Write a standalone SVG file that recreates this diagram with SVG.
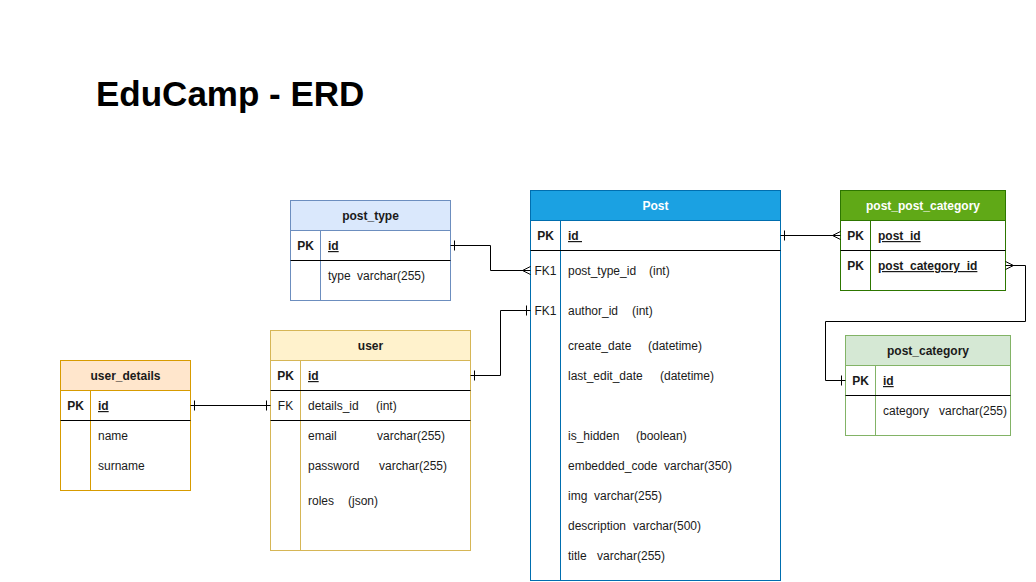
<svg xmlns="http://www.w3.org/2000/svg" width="1036" height="582" viewBox="0 0 1036 582">
<style>
text{font-family:"Liberation Sans",Arial,Helvetica,sans-serif;font-size:12px;fill:#1a1a1a}
.h{font-weight:bold;text-anchor:middle}
.hw{font-weight:bold;text-anchor:middle;fill:#fff}
.k{text-anchor:middle}
.kb{text-anchor:middle;font-weight:bold}
.u{font-weight:bold;text-decoration:underline}
.sep{stroke:#000;stroke-width:1;fill:none}
.c{stroke:#000;stroke-width:1;fill:none}
.title{font-size:35px;font-weight:bold;fill:#000}
</style>
<rect width="1036" height="582" fill="#fff"/>
<text class="title" x="96" y="106">EduCamp - ERD</text>

<g id="post_type">
<rect x="290.5" y="200.5" width="160" height="100" fill="#fff" stroke="#6c8ebf"/>
<rect x="290.5" y="200.5" width="160" height="30" fill="#dae8fc" stroke="#6c8ebf"/>
<line x1="320.5" y1="230.5" x2="320.5" y2="300.5" stroke="#6c8ebf"/>
<line class="sep" x1="290.5" y1="260.5" x2="450.5" y2="260.5"/>
<text class="h" x="370.5" y="220">post_type</text>
<text class="kb" x="305.5" y="250">PK</text>
<text class="u" x="328" y="250">id</text>
<text x="328" y="280">type</text><text x="357" y="280">varchar(255)</text>
</g>

<g id="post">
<rect x="530.5" y="190.5" width="250" height="390" fill="#fff" stroke="#006eaf"/>
<rect x="530.5" y="190.5" width="250" height="30" fill="#1ba1e2" stroke="#006eaf"/>
<line x1="560.5" y1="220.5" x2="560.5" y2="580.5" stroke="#006eaf"/>
<line class="sep" x1="530.5" y1="250.5" x2="780.5" y2="250.5"/>
<text class="hw" x="655.5" y="210">Post</text>
<text class="kb" x="545.5" y="240">PK</text>
<text class="u" x="568" y="240">id&#160;</text>
<text class="k" x="545.5" y="275">FK1</text>
<text x="568" y="275">post_type_id</text><text x="649" y="275">(int)</text>
<text class="k" x="545.5" y="315">FK1</text>
<text x="568" y="315">author_id</text><text x="632" y="315">(int)</text>
<text x="568" y="350">create_date</text><text x="648" y="350">(datetime)</text>
<text x="568" y="380">last_edit_date</text><text x="660" y="380">(datetime)</text>
<text x="568" y="440">is_hidden</text><text x="636" y="440">(boolean)</text>
<text x="568" y="470">embedded_code</text><text x="664" y="470">varchar(350)</text>
<text x="568" y="500">img</text><text x="594" y="500">varchar(255)</text>
<text x="568" y="530">description</text><text x="633" y="530">varchar(500)</text>
<text x="568" y="560">title</text><text x="597" y="560">varchar(255)</text>
</g>

<g id="post_post_category">
<rect x="840.5" y="190.5" width="165" height="100" fill="#fff" stroke="#2d7600"/>
<rect x="840.5" y="190.5" width="165" height="30" fill="#60a917" stroke="#2d7600"/>
<line x1="870.5" y1="220.5" x2="870.5" y2="290.5" stroke="#2d7600"/>
<line class="sep" x1="840.5" y1="250.5" x2="1005.5" y2="250.5"/>
<text class="hw" x="923" y="210">post_post_category</text>
<text class="kb" x="855.5" y="240">PK</text>
<text class="u" x="878" y="240">post_id</text>
<text class="kb" x="855.5" y="270">PK</text>
<text class="u" x="878" y="270">post_category_id</text>
</g>

<g id="post_category">
<rect x="845.5" y="335.5" width="165" height="100" fill="#fff" stroke="#82b366"/>
<rect x="845.5" y="335.5" width="165" height="30" fill="#d5e8d4" stroke="#82b366"/>
<line x1="875.5" y1="365.5" x2="875.5" y2="435.5" stroke="#82b366"/>
<line class="sep" x1="845.5" y1="395.5" x2="1010.5" y2="395.5"/>
<text class="h" x="928" y="355">post_category</text>
<text class="kb" x="860.5" y="385">PK</text>
<text class="u" x="883" y="385">id</text>
<text x="883" y="415">category</text><text x="939" y="415">varchar(255)</text>
</g>

<g id="user_details">
<rect x="60.5" y="360.5" width="130" height="130" fill="#fff" stroke="#d79b00"/>
<rect x="60.5" y="360.5" width="130" height="30" fill="#ffe6cc" stroke="#d79b00"/>
<line x1="90.5" y1="390.5" x2="90.5" y2="490.5" stroke="#d79b00"/>
<line class="sep" x1="60.5" y1="420.5" x2="190.5" y2="420.5"/>
<text class="h" x="125.5" y="380">user_details</text>
<text class="kb" x="75.5" y="410">PK</text>
<text class="u" x="98" y="410">id</text>
<text x="98" y="440">name</text>
<text x="98" y="470">surname</text>
</g>

<g id="user">
<rect x="270.5" y="330.5" width="200" height="220" fill="#fff" stroke="#d6b656"/>
<rect x="270.5" y="330.5" width="200" height="30" fill="#fff2cc" stroke="#d6b656"/>
<line x1="300.5" y1="360.5" x2="300.5" y2="550.5" stroke="#d6b656"/>
<line class="sep" x1="270.5" y1="390.5" x2="470.5" y2="390.5"/>
<line class="sep" x1="270.5" y1="420.5" x2="470.5" y2="420.5"/>
<text class="h" x="370.5" y="350">user</text>
<text class="kb" x="285.5" y="380">PK</text>
<text class="u" x="308" y="380">id</text>
<text class="k" x="285.5" y="410">FK</text>
<text x="308" y="410">details_id</text><text x="376" y="410">(int)</text>
<text x="308" y="440">email</text><text x="377" y="440">varchar(255)</text>
<text x="308" y="470">password</text><text x="379" y="470">varchar(255)</text>
<text x="308" y="505">roles</text><text x="348" y="505">(json)</text>
</g>

<g id="connectors">
<!-- post_type.id -> Post.post_type_id -->
<path class="c" d="M450.5 245.5 H490.5 V270.5 H530.5"/>
<path class="c" d="M454.5 240.5 V250.5"/>
<path class="c" d="M530.5 266.5 L522.5 270.5 L530.5 274.5"/>
<!-- user.id -> Post.author_id -->
<path class="c" d="M470.5 375.5 H500.5 V310.5 H530.5"/>
<path class="c" d="M474.5 370.5 V380.5"/>
<path class="c" d="M526.5 305.5 V315.5"/>
<!-- Post.id -> post_post_category.post_id -->
<path class="c" d="M780.5 235.5 H840.5"/>
<path class="c" d="M784.5 230.5 V240.5"/>
<path class="c" d="M840.5 231.5 L832.5 235.5 L840.5 239.5"/>
<!-- post_post_category.post_category_id -> post_category.id -->
<path class="c" d="M1005.5 265.5 H1025.5 V321.5 H825.5 V380.5 H845.5"/>
<path class="c" d="M1005.5 261.5 L1013.5 265.5 L1005.5 269.5"/>
<path class="c" d="M841.5 375.5 V385.5"/>
<!-- user_details.id -> user.details_id -->
<path class="c" d="M190.5 405.5 H270.5"/>
<path class="c" d="M194.5 400.5 V410.5"/>
<path class="c" d="M266.5 400.5 V410.5"/>
</g>
</svg>
